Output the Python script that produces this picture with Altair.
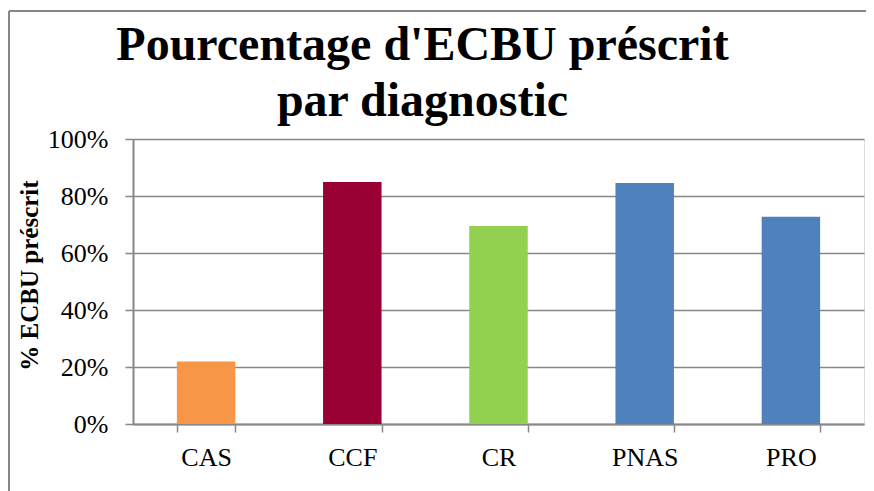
import altair as alt
import pandas as pd

categories = ["CAS", "CCF", "CR", "PNAS", "PRO"]
values = [0.219, 0.849, 0.695, 0.846, 0.727]
colors = ["#F79646", "#990033", "#92D050", "#4F81BD", "#4F81BD"]
y_ticks = [0, 0.2, 0.4, 0.6, 0.8, 1.0]

df = pd.DataFrame({"diag": categories, "pct": values, "color": colors})

FONT = "Liberation Serif"
GRAY = "#878787"

bars = alt.Chart(df).mark_bar().encode(
    x=alt.X(
        "diag:N",
        sort=categories,
        scale=alt.Scale(paddingInner=0.6, paddingOuter=0.3),
        axis=alt.Axis(
            title=None,
            labelAngle=0,
            labelFont=FONT,
            labelFontSize=26,
            labelColor="#000000",
            labelBaseline="alphabetic",
            labelPadding=33,
            tickBand="extent",
            tickSize=8,
            tickColor=GRAY,
            tickWidth=1.5,
            domainColor=GRAY,
            domainWidth=2,
            grid=False,
        ),
    ),
    y=alt.Y(
        "pct:Q",
        scale=alt.Scale(domain=[0, 1], nice=False),
        axis=alt.Axis(
            title="% ECBU préscrit",
            titleFont=FONT,
            titleFontSize=25,
            titleFontWeight="bold",
            titleColor="#000000",
            titleAngle=-90,
            titleBaseline="alphabetic",
            titleX=-96,
            titleY=136,
            values=y_ticks,
            format=".0%",
            labelFont=FONT,
            labelFontSize=26,
            labelColor="#000000",
            labelPadding=17,
            tickSize=8,
            tickColor=GRAY,
            tickWidth=1.5,
            domainColor=GRAY,
            domainWidth=2,
            grid=True,
            gridColor=GRAY,
            gridWidth=1.5,
        ),
    ),
    color=alt.Color("color:N", scale=None, legend=None),
)

frame_src = alt.Data(values=[{}])
border_top = alt.Chart(frame_src).mark_rule(stroke=GRAY, strokeWidth=2).encode(
    x=alt.value(-124),
    x2=alt.value(1200),
    y=alt.value(-128),
)
border_left = alt.Chart(frame_src).mark_rule(stroke=GRAY, strokeWidth=2).encode(
    x=alt.value(-124),
    y=alt.value(-128),
    y2=alt.value(1200),
)

chart = alt.layer(border_top, border_left, bars).properties(
    width=731,
    height=285,
    title=alt.TitleParams(
        text=["Pourcentage d'ECBU préscrit", "par diagnostic"],
        font=FONT,
        fontSize=48,
        fontWeight="bold",
        color="#000000",
        anchor="middle",
        frame="group",
        baseline="alphabetic",
        lineHeight=56,
        dx=-76,
        dy=164,
        offset=10,
    ),
    autosize=alt.AutoSizeParams(type="none"),
    padding={"left": 125, "top": 131, "right": 2, "bottom": 67},
).configure_view(stroke="transparent", strokeWidth=0).configure(background="#ffffff")

chart.save("out.html", embed_options={"renderer": "svg", "actions": False})
